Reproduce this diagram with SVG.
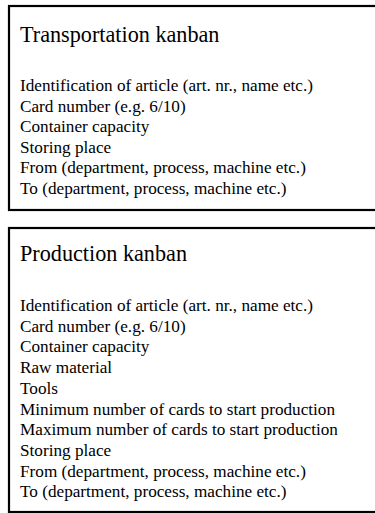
<svg xmlns="http://www.w3.org/2000/svg" width="375" height="513" viewBox="0 0 375 513">
  <style>
    .card { fill: #ffffff; stroke: #000000; stroke-width: 2.2; }
    .title { font-family: "Liberation Serif", "Times New Roman", serif; font-size: 22.2px; fill: #000000; }
    .item { font-family: "Liberation Serif", "Times New Roman", serif; font-size: 17.2px; fill: #000000; }
  </style>
  <rect x="0" y="0" width="375" height="513" fill="#ffffff"/>

  <!-- Transportation kanban card -->
  <g id="transportation-kanban">
    <rect class="card" x="9" y="6" width="380" height="204"/>
    <text class="title" x="20" y="42">Transportation kanban</text>
    <text class="item" x="20" y="91">
      <tspan x="20" y="91">Identification of article (art. nr., name etc.)</tspan>
      <tspan x="20" y="111.6">Card number (e.g. 6/10)</tspan>
      <tspan x="20" y="132.2">Container capacity</tspan>
      <tspan x="20" y="152.8">Storing place</tspan>
      <tspan x="20" y="173.4">From (department, process, machine etc.)</tspan>
      <tspan x="20" y="194">To (department, process, machine etc.)</tspan>
    </text>
  </g>

  <!-- Production kanban card -->
  <g id="production-kanban">
    <rect class="card" x="9" y="228" width="380" height="284"/>
    <text class="title" x="20" y="260.5">Production kanban</text>
    <text class="item" x="20" y="311">
      <tspan x="20" y="311">Identification of article (art. nr., name etc.)</tspan>
      <tspan x="20" y="331.7">Card number (e.g. 6/10)</tspan>
      <tspan x="20" y="352.4">Container capacity</tspan>
      <tspan x="20" y="373.1">Raw material</tspan>
      <tspan x="20" y="393.8">Tools</tspan>
      <tspan x="20" y="414.5">Minimum number of cards to start production</tspan>
      <tspan x="20" y="435.2">Maximum number of cards to start production</tspan>
      <tspan x="20" y="455.9">Storing place</tspan>
      <tspan x="20" y="476.6">From (department, process, machine etc.)</tspan>
      <tspan x="20" y="497.3">To (department, process, machine etc.)</tspan>
    </text>
  </g>
</svg>
